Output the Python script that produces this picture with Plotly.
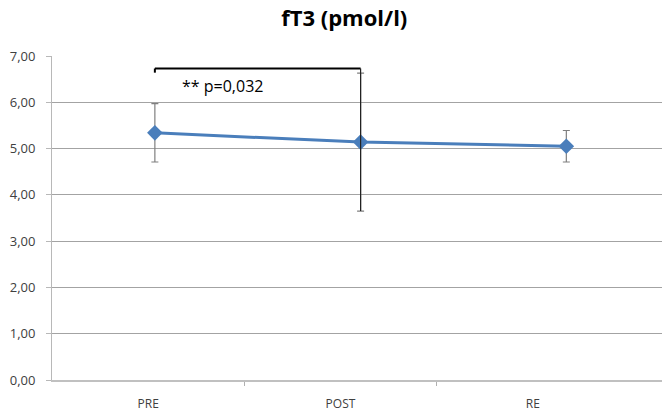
import plotly.graph_objects as go

# fT3 measurements at each stage (pmol/l)
stages = ["PRE", "POST", "RE"]
means = [5.34, 5.14, 5.05]
sds = [0.63, 1.49, 0.34]

# Significance bracket between PRE and POST
sig_text = "** p=0,032"
bracket_level = 6.73
bracket_leg = 6.64

line_blue = "#4a7ebb"
grid_gray = "#a3a3a3"

fig = go.Figure()

# Mean line with SD error bars
fig.add_trace(go.Scatter(
    x=stages, y=means,
    mode="lines+markers",
    line=dict(color=line_blue, width=3),
    marker=dict(symbol="diamond", size=12, color=line_blue),
    error_y=dict(type="data", array=sds, visible=True,
                 color="#7f7f7f", thickness=1.2, width=3.5),
    xaxis="x", yaxis="y",
    showlegend=False, hoverinfo="skip",
))

# Invisible trace that carries the labelled category axis
fig.add_trace(go.Scatter(
    x=[0, 1, 2], y=[None, None, None], mode="markers",
    xaxis="x2", yaxis="y", showlegend=False, hoverinfo="skip",
))

# Bracket: left leg at PRE, right leg at POST running down the SD bar
pre_i, post_i = 0, 1
fig.add_shape(type="line", xref="x", yref="y",
              x0=stages[pre_i], x1=stages[post_i], y0=bracket_level, y1=bracket_level,
              line=dict(color="black", width=2))
fig.add_shape(type="line", xref="x", yref="y",
              x0=stages[pre_i], x1=stages[pre_i], y0=bracket_leg, y1=bracket_level,
              line=dict(color="black", width=2))
fig.add_shape(type="line", xref="x", yref="y",
              x0=stages[post_i], x1=stages[post_i],
              y0=means[post_i] - sds[post_i], y1=bracket_level,
              line=dict(color="#222222", width=1.2))

fig.add_annotation(text=sig_text, xref="paper", yref="y",
                   x=0.21, y=6.35, showarrow=False,
                   font=dict(family="Open Sans", size=16, color="black"))

fig.update_layout(
    width=662, height=412,
    margin=dict(l=52, r=0, t=56, b=30),
    paper_bgcolor="white", plot_bgcolor="white",
    separators=", ",
    title=dict(text="<b>fT3 (pmol/l)</b>", x=0.52, xanchor="center",
               y=0.955, yanchor="middle",
               font=dict(family="Open Sans", size=22, color="black")),
    font=dict(family="Open Sans", size=12, color="#404040"),
    xaxis=dict(type="category", range=[-0.5, 2.465], visible=False,
               showgrid=False, zeroline=False),
    xaxis2=dict(overlaying="x", anchor="y", side="bottom",
                range=[-0.5, 2.672], tickmode="array",
                tickvals=[0, 1, 2], ticktext=stages, ticks="",
                ticklabelstandoff=12,
                showgrid=False, zeroline=False,
                showline=True, linecolor="#c0c0c0", linewidth=1.5,
                minor=dict(tickmode="array", tickvals=[0.5, 1.5],
                           ticks="outside", ticklen=4, tickcolor="#b0b0b0",
                           showgrid=False),
                tickfont=dict(family="Open Sans", size=12, color="#404040")),
    yaxis=dict(range=[0, 7], dtick=1, tickformat=".2f",
               showgrid=True, gridcolor=grid_gray, gridwidth=1,
               zeroline=False, showline=True, linecolor="#b8b8b8",
               ticks="outside", ticklen=5, tickcolor="#b8b8b8",
               ticklabelstandoff=8,
               tickfont=dict(family="Open Sans", size=13, color="#404040")),
)

fig.write_html("out.html")
